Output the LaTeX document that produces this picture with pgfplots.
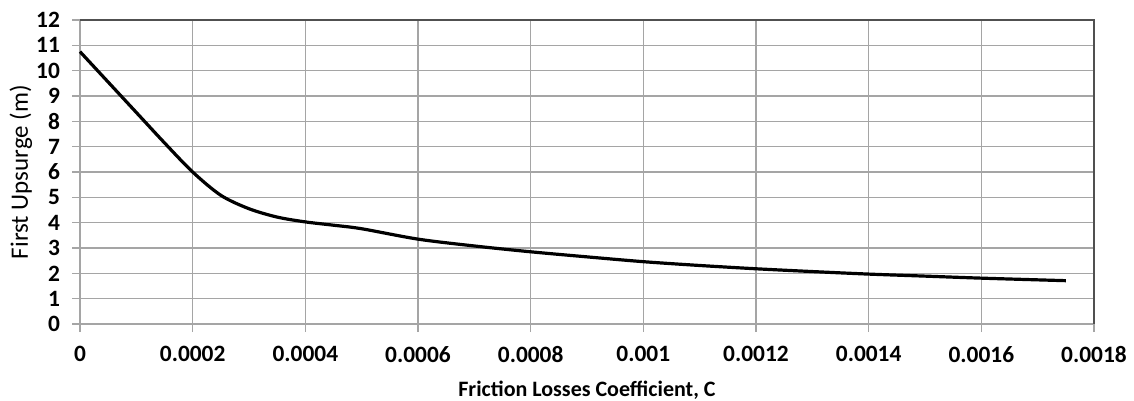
\documentclass[border=0pt]{standalone}
\usepackage{pgfplots}
\pgfplotsset{compat=1.18}
\usepackage{fontspec}
\setmainfont{Carlito}
\definecolor{gridgray}{RGB}{165,165,165}
\definecolor{boxgray}{RGB}{80,80,80}
\begin{document}
\begin{tikzpicture}
\begin{axis}[
  scale only axis,
  width=507pt, height=152pt,
  xmin=0, xmax=0.0018, ymin=0, ymax=12,
  xtick={0,0.0002,0.0004,0.0006,0.0008,0.001,0.0012,0.0014,0.0016,0.0018},
  xticklabels={0,0.0002,0.0004,0.0006,0.0008,0.001,0.0012,0.0014,0.0016,0.0018},
  ytick={0,1,2,3,4,5,6,7,8,9,10,11,12},
  scaled x ticks=false,
  /pgf/number format/assume math mode=true,
  ticklabel style={font=\fontsize{11.7}{13}\selectfont\bfseries},
  xticklabel style={yshift=-3.5pt},
  yticklabel style={xshift=-2.5pt},
  tick pos=left,
  tick align=outside,
  major tick length=4pt,
  major tick style={gridgray, line width=0.6pt},
  grid=major,
  major grid style={gridgray, line width=0.6pt},
  axis line style={draw=none},
  xlabel={\fontsize{11}{13}\selectfont\bfseries Friction Losses Coefficient, C},
  ylabel={\fontsize{12.5}{14}\selectfont First Upsurge (m)},
  xlabel style={at={(rel axis cs:0.5,0)}, anchor=center, yshift=-33pt},
  ylabel style={at={(rel axis cs:0,0.5)}, anchor=center, yshift=29.5pt},
  clip=false,
]
\addplot[black, line width=1.6pt, smooth, tension=0.5] coordinates {
(0,10.75)
(0.00005,9.55)
(0.0001,8.35)
(0.00015,7.15)
(0.0002,6.0)
(0.00025,5.08)
(0.0003,4.55)
(0.00035,4.22)
(0.0004,4.03)
(0.00045,3.9)
(0.0005,3.76)
(0.0006,3.35)
(0.0007,3.08)
(0.0008,2.85)
(0.0009,2.65)
(0.001,2.46)
(0.0011,2.31)
(0.0012,2.18)
(0.0013,2.07)
(0.0014,1.97)
(0.0015,1.89)
(0.0016,1.81)
(0.00175,1.71)
};
\draw[boxgray, line width=0.7pt] (rel axis cs:0,1) -- (rel axis cs:1,1) -- (rel axis cs:1,0);
\end{axis}
\pgfresetboundingbox
\path ([xshift=-40pt,yshift=-38.5pt]current axis.south west) rectangle ([xshift=20pt,yshift=10pt]current axis.north east);
\end{tikzpicture}
\end{document}
